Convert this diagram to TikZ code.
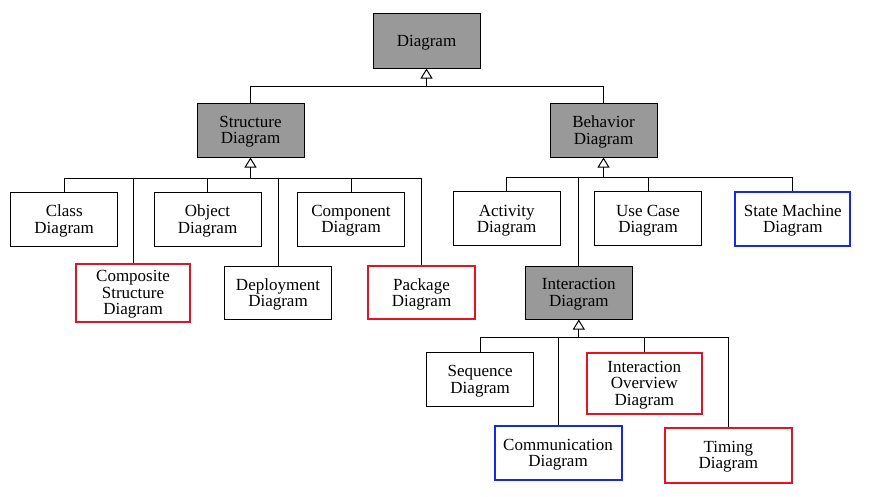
\documentclass[tikz,border=0pt]{standalone}
\usepackage{fontspec}
\setmainfont{Liberation Serif}
\usetikzlibrary{arrows.meta}
\definecolor{umlgray}{RGB}{153,153,153}
\definecolor{umlred}{RGB}{232,17,35}
\definecolor{umlblue}{RGB}{20,40,240}
\tikzset{
  diabox/.style={rectangle, draw=black, line width=1pt, align=center, inner sep=0pt, minimum width=107pt, minimum height=54pt, font=\fontsize{17}{16.5}\selectfont, text depth=0pt},
  abstractbox/.style={diabox, fill=umlgray},
  newbox/.style={diabox, draw=umlred, line width=2pt},
  changedbox/.style={diabox, draw=umlblue, line width=2pt},
  link/.style={draw=black, line width=1pt},
  stem/.style={link, -{Triangle[open, length=10pt, width=12pt]}}
}
\begin{document}
\begin{tikzpicture}[x=1pt, y=-1pt]
\useasboundingbox (0,0) rectangle (875,496);

% top
\node (diagram) [abstractbox, minimum height=55pt] at (426.5,40.5) {Diagram};
\node (structure) [abstractbox] at (250.5,130) {Structure\\Diagram};
\node (behavior) [abstractbox] at (603.5,130) {Behavior\\Diagram};

% structure diagrams
\node (class) [diabox] at (64.2,219) {Class\\Diagram};
\node (object) [diabox] at (207.5,219) {Object\\Diagram};
\node (component) [diabox] at (351,219) {Component\\Diagram};
\node (composite) [newbox, minimum width=114pt, minimum height=58pt] at (133,292.5) {Composite\\Structure\\Diagram};
\node (deployment) [diabox, minimum height=53pt] at (278,292.5) {Deployment\\Diagram};
\node (package) [newbox, minimum height=53pt] at (421.5,292.5) {Package\\Diagram};

% behavior diagrams
\node (activity) [diabox] at (506.7,218.7) {Activity\\Diagram};
\node (usecase) [diabox] at (648,218.7) {Use Case\\Diagram};
\node (statemachine) [changedbox, minimum width=115pt] at (792.8,218.5) {State Machine\\Diagram};
\node (interaction) [abstractbox, minimum height=53pt] at (578.8,292.5) {Interaction\\Diagram};

% interaction diagrams
\node (sequence) [diabox] at (480.2,379.5) {Sequence\\Diagram};
\node (overview) [newbox, minimum width=115pt, minimum height=61pt] at (644.3,383.3) {Interaction\\Overview\\Diagram};
\node (communication) [changedbox, minimum width=127pt] at (558,452.7) {Communication\\Diagram};
\node (timing) [newbox, minimum width=127pt, minimum height=55pt] at (728.3,455) {Timing\\Diagram};

% generalization bars
\coordinate (diagramBar) at (426.5,86);
\coordinate (structureBar) at (250.5,178);
\coordinate (behaviorBar) at (603.5,177.5);
\coordinate (interactionBar) at (578.8,337.5);

\draw[stem] (diagramBar) -- (diagram.south);
\draw[stem] (structureBar) -- (structure.south);
\draw[stem] (behaviorBar) -- (behavior.south);
\draw[stem] (interactionBar) -- (interaction.south);

\foreach \child in {structure, behavior}
  \draw[link] (\child.north) |- (diagramBar);
\foreach \child in {class, object, component, composite, deployment, package}
  \draw[link] (\child.north) |- (structureBar);
\foreach \child in {activity, usecase, statemachine, interaction}
  \draw[link] (\child.north) |- (behaviorBar);
\foreach \child in {sequence, overview, communication, timing}
  \draw[link] (\child.north) |- (interactionBar);

\end{tikzpicture}
\end{document}
